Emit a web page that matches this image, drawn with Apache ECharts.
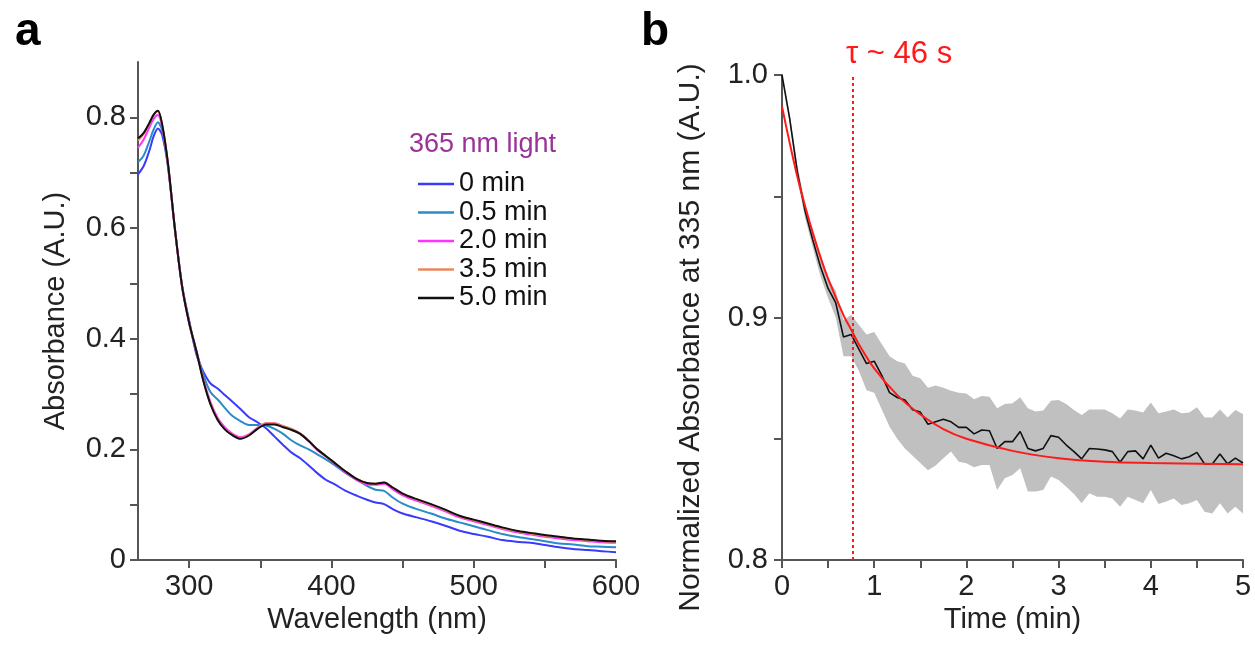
<!DOCTYPE html>
<html>
<head>
<meta charset="utf-8">
<script src="https://cdn.jsdelivr.net/npm/echarts@6/dist/echarts.min.js"></script>
<style>
  html, body { margin: 0; padding: 0; background: #fff; }
  #chart { width: 1255px; height: 647px; }
</style>
</head>
<body>
<div id="chart"></div>
<script>
// ---- panel a: absorbance spectra ----
var wavelengths = [264, 268, 272, 275, 278, 281, 285, 290, 295, 300, 305, 310, 315, 320, 325, 330, 336, 342, 348, 354,
  360, 366, 372, 378, 384, 390, 396, 402, 410, 418, 425, 431, 437, 443, 450, 460, 470, 480, 490, 500,
  510, 520, 530, 540, 550, 560, 570, 580, 590, 600];
var abs0 = [0.697, 0.712, 0.740, 0.766, 0.780, 0.768, 0.712, 0.597, 0.496, 0.432, 0.372, 0.340, 0.319, 0.310, 0.298, 0.287, 0.273, 0.258, 0.249, 0.238,
  0.223, 0.208, 0.194, 0.184, 0.171, 0.157, 0.145, 0.137, 0.125, 0.116, 0.109, 0.104, 0.101, 0.092, 0.084, 0.077, 0.070, 0.062, 0.053, 0.047,
  0.042, 0.036, 0.033, 0.031, 0.027, 0.023, 0.020, 0.018, 0.016, 0.014];
var abs05 = [0.719, 0.731, 0.757, 0.778, 0.791, 0.776, 0.716, 0.597, 0.495, 0.430, 0.378, 0.334, 0.303, 0.290, 0.275, 0.261, 0.251, 0.244, 0.244, 0.243,
  0.237, 0.228, 0.216, 0.207, 0.200, 0.191, 0.182, 0.172, 0.157, 0.145, 0.134, 0.127, 0.125, 0.113, 0.102, 0.092, 0.084, 0.075, 0.068, 0.061,
  0.054, 0.047, 0.042, 0.038, 0.034, 0.030, 0.028, 0.025, 0.024, 0.023];
var abs20 = [0.745, 0.760, 0.782, 0.797, 0.804, 0.782, 0.717, 0.597, 0.494, 0.428, 0.378, 0.326, 0.285, 0.257, 0.240, 0.229, 0.222, 0.227, 0.239, 0.247,
  0.247, 0.242, 0.236, 0.228, 0.215, 0.199, 0.187, 0.175, 0.158, 0.144, 0.137, 0.136, 0.138, 0.128, 0.117, 0.107, 0.098, 0.088, 0.077, 0.070,
  0.063, 0.056, 0.050, 0.046, 0.042, 0.039, 0.036, 0.034, 0.032, 0.031];
var abs35 = [0.758, 0.770, 0.789, 0.804, 0.811, 0.786, 0.718, 0.597, 0.494, 0.428, 0.378, 0.324, 0.282, 0.254, 0.237, 0.227, 0.220, 0.226, 0.238, 0.247,
  0.247, 0.242, 0.237, 0.229, 0.216, 0.200, 0.188, 0.176, 0.160, 0.146, 0.139, 0.138, 0.140, 0.131, 0.120, 0.109, 0.100, 0.090, 0.079, 0.072,
  0.065, 0.058, 0.052, 0.048, 0.044, 0.041, 0.038, 0.036, 0.034, 0.033];
var abs50 = [0.762, 0.772, 0.790, 0.805, 0.812, 0.787, 0.718, 0.597, 0.494, 0.428, 0.378, 0.323, 0.281, 0.253, 0.236, 0.226, 0.219, 0.225, 0.237, 0.245,
  0.245, 0.240, 0.235, 0.228, 0.215, 0.200, 0.188, 0.176, 0.160, 0.146, 0.139, 0.138, 0.140, 0.131, 0.120, 0.110, 0.101, 0.091, 0.080, 0.073,
  0.066, 0.059, 0.053, 0.049, 0.045, 0.042, 0.039, 0.037, 0.035, 0.034];
var specNames = ['0 min', '0.5 min', '2.0 min', '3.5 min', '5.0 min'];
var specColors = ['#3a3aff', '#2a8bc9', '#ff33ff', '#ea875c', '#111111'];
var aXTicks = [300, 350, 400, 450, 500, 550, 600];
var aXLabels = [300, 400, 500, 600];
var aYTicks = [0, 0.1, 0.2, 0.3, 0.4, 0.5, 0.6, 0.7, 0.8];
var aYLabels = [0, 0.2, 0.4, 0.6, 0.8];

// ---- panel b: kinetics at 335 nm (time in seconds) ----
var bSec = [0, 5, 10, 15, 20, 25, 30, 35, 40, 45, 50, 55, 60, 65, 70, 75, 80, 85, 90, 95,
  100, 105, 110, 115, 120, 125, 130, 135, 140, 145, 150, 155, 160, 165, 170, 175, 180, 185, 190, 195,
  200, 205, 210, 215, 220, 225, 230, 235, 240, 245, 250, 255, 260, 265, 270, 275, 280, 285, 290, 295, 300];
var bMean = [1.000, 0.982, 0.960, 0.944, 0.932, 0.921, 0.912, 0.906, 0.892, 0.893, 0.887, 0.881, 0.882, 0.876, 0.869, 0.867, 0.866, 0.862, 0.861, 0.856,
  0.857, 0.858, 0.857, 0.8547, 0.8547, 0.852, 0.8536, 0.8533, 0.846, 0.8488, 0.8488, 0.853, 0.846, 0.845, 0.846, 0.8513, 0.8506, 0.8474, 0.8447, 0.8417,
  0.846, 0.8458, 0.8454, 0.8447, 0.8403, 0.8447, 0.845, 0.8417, 0.8474, 0.842, 0.844, 0.843, 0.8417, 0.8426, 0.8444, 0.8396, 0.8396, 0.8437, 0.8396, 0.842, 0.840];
var bUpper = [1.000, 0.984, 0.963, 0.947, 0.935, 0.925, 0.916, 0.911, 0.899, 0.901, 0.897, 0.893, 0.894, 0.889, 0.884, 0.882, 0.881, 0.876, 0.875, 0.871,
  0.872, 0.871, 0.8698, 0.8690, 0.8687, 0.8663, 0.8676, 0.8673, 0.8626, 0.8643, 0.8646, 0.8671, 0.8626, 0.8612, 0.8616, 0.8657, 0.8660, 0.8643, 0.8619, 0.8598,
  0.8621, 0.8621, 0.8621, 0.8605, 0.8584, 0.8621, 0.8616, 0.8608, 0.8650, 0.8605, 0.8612, 0.8621, 0.8605, 0.8608, 0.8630, 0.8588, 0.8588, 0.8621, 0.8588, 0.8619, 0.8602];
var bLower = [1.000, 0.980, 0.957, 0.941, 0.929, 0.917, 0.908, 0.900, 0.884, 0.884, 0.878, 0.870, 0.869, 0.862, 0.855, 0.850, 0.846, 0.843, 0.840, 0.837,
  0.839, 0.842, 0.8447, 0.8405, 0.8399, 0.8382, 0.8392, 0.8392, 0.8289, 0.8337, 0.8351, 0.8378, 0.8282, 0.8282, 0.8289, 0.8344, 0.8330, 0.8302, 0.8272, 0.8234,
  0.8275, 0.8261, 0.8261, 0.8254, 0.8220, 0.8261, 0.8247, 0.8234, 0.8289, 0.8231, 0.8241, 0.8254, 0.8227, 0.8234, 0.8247, 0.8199, 0.8192, 0.8234, 0.8192, 0.8220, 0.8192];
// exponential fit
var fitSec = [0, 5, 10, 15, 20, 25, 30, 40, 45, 50, 60, 75, 90, 105, 120, 150, 180, 210, 240, 300];
var fitVal = [0.987, 0.972, 0.958, 0.946, 0.935, 0.925, 0.916, 0.901, 0.895, 0.889, 0.879, 0.868, 0.860, 0.854, 0.850, 0.845, 0.842, 0.8405, 0.840, 0.8395];
var tauSec = 46;
var bXTicks = [0, 30, 60, 90, 120, 150, 180, 210, 240, 270, 300];
var bXLabels = [0, 60, 120, 180, 240, 300];
var bYTicks = [0.8, 0.85, 0.9, 0.95, 1.0];
var bYLabels = [0.8, 0.9, 1.0];

var FONT = 'Liberation Sans, Arial, sans-serif';
var TXT = '#222';
var AXC = '#555';

function pairs(xs, ys) {
  return xs.map(function (x, i) { return [x, ys[i]]; });
}

function axis(opt) {
  return {
    type: 'value',
    gridIndex: opt.grid, min: opt.min, max: opt.max,
    splitLine: { show: false },
    axisLine: { show: true, onZero: false, lineStyle: { color: AXC, width: 2 } },
    axisTick: { show: true, length: 8, customValues: opt.ticks, lineStyle: { color: AXC, width: 2 } },
    axisLabel: { color: TXT, fontSize: 29, fontFamily: FONT, margin: opt.margin || 12,
      customValues: opt.labels, formatter: opt.formatter },
    name: opt.name, nameLocation: 'middle', nameGap: opt.nameGap,
    nameTextStyle: { color: TXT, fontSize: opt.nameSize || 29, fontFamily: FONT, padding: opt.namePad || 0 }
  };
}

var chart = echarts.init(document.getElementById('chart'));

var series = [];
var spec = [abs0, abs05, abs20, abs35, abs50];
for (var i = 0; i < spec.length; i++) {
  series.push({
    name: specNames[i],
    type: 'line',
    xAxisIndex: 0, yAxisIndex: 0,
    data: pairs(wavelengths, spec[i]),
    symbol: 'none',
    smooth: 0.3,
    lineStyle: { color: specColors[i], width: 2 },
    itemStyle: { color: specColors[i] }
  });
}

// grey band (spread) as one polygon through the axis scales
series.push({
  type: 'custom', xAxisIndex: 1, yAxisIndex: 1,
  data: [[0, 0.9]],
  clip: true, silent: true,
  renderItem: function (params, api) {
    var pts = [];
    for (var k = 0; k < bSec.length; k++) pts.push(api.coord([bSec[k], bUpper[k]]));
    for (var k2 = bSec.length - 1; k2 >= 0; k2--) pts.push(api.coord([bSec[k2], bLower[k2]]));
    return { type: 'polygon', shape: { points: pts }, style: { fill: '#c0c0c0' } };
  }
});
series.push({
  name: 'mean', type: 'line', xAxisIndex: 1, yAxisIndex: 1,
  data: pairs(bSec, bMean), symbol: 'none',
  lineStyle: { color: '#111', width: 1.6 }
});
series.push({
  name: 'fit', type: 'line', xAxisIndex: 1, yAxisIndex: 1,
  data: pairs(fitSec, fitVal), symbol: 'none', smooth: 0.4,
  lineStyle: { color: '#ff1a1a', width: 2 },
  markLine: {
    silent: true, symbol: 'none',
    label: { show: false },
    lineStyle: { color: '#ff1a1a', type: [3, 3], width: 2 },
    data: [{ xAxis: tauSec }]
  }
});

chart.setOption({
  animation: false,
  title: [
    { text: 'a', left: 10, top: 4, textStyle: { fontSize: 46, fontWeight: 'bold', color: '#000', fontFamily: FONT } },
    { text: 'b', left: 636, top: 4, textStyle: { fontSize: 46, fontWeight: 'bold', color: '#000', fontFamily: FONT } },
    { text: '365 nm light', left: 404, top: 126, textStyle: { fontSize: 27, fontWeight: 'normal', color: '#993399', fontFamily: FONT } },
    { text: 'τ ~ 46 s', left: 841, top: 34, textStyle: { fontSize: 31, fontWeight: 'normal', color: '#ff1a1a', fontFamily: FONT } }
  ],
  legend: {
    data: specNames,
    orient: 'vertical',
    left: 413, top: 165,
    icon: 'rect',
    itemWidth: 36, itemHeight: 2.5, itemGap: 0.5,
    textStyle: { color: '#111', fontSize: 27, fontFamily: FONT, lineHeight: 28 }
  },
  grid: [
    { left: 138, right: 639, top: 62, bottom: 87 },
    { left: 782, right: 12, top: 75, bottom: 87 }
  ],
  xAxis: [
    axis({ grid: 0, min: 264, max: 600, ticks: aXTicks, labels: aXLabels,
      name: 'Wavelength (nm)', nameGap: 45 }),
    axis({ grid: 1, min: 0, max: 300, ticks: bXTicks, labels: bXLabels,
      name: 'Time (min)', nameGap: 45,
      formatter: function (v) { return String(Math.round(v / 60)); } })
  ],
  yAxis: [
    axis({ grid: 0, min: 0, max: 0.9, ticks: aYTicks, labels: aYLabels,
      name: 'Absorbance (A.U.)', nameGap: 68,
      formatter: function (v) { return v === 0 ? '0' : v.toFixed(1); } }),
    axis({ grid: 1, min: 0.8, max: 1.0, ticks: bYTicks, labels: bYLabels, margin: 14,
      name: 'Normalized Absorbance at 335 nm (A.U.)', nameGap: 76, nameSize: 30, namePad: [0, 40, 0, 0],
      formatter: function (v) { return v.toFixed(1); } })
  ],
  series: series
});
</script>
</body>
</html>
